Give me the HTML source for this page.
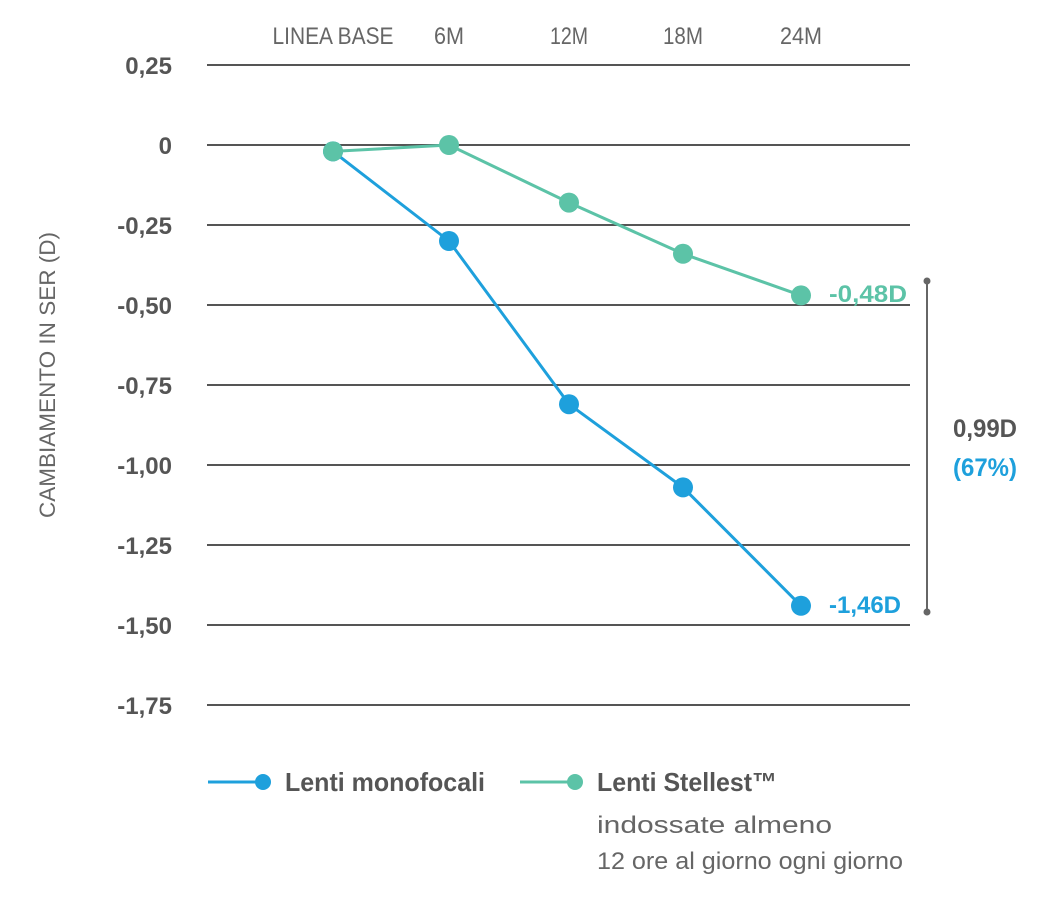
<!DOCTYPE html>
<html><head><meta charset="utf-8"><style>
html,body{margin:0;padding:0;background:#fff;}
svg{display:block;font-family:"Liberation Sans Narrow","Liberation Sans",sans-serif;}
</style></head><body>
<svg id="chart" width="1053" height="912" viewBox="0 0 1053 912" xmlns="http://www.w3.org/2000/svg">
<g id="grid"></g>
<g id="yt"></g>
<g id="xt"></g>
<text x="55" y="375" transform="rotate(-90 55 375)" text-anchor="middle" font-size="22" fill="#666" textLength="286" lengthAdjust="spacingAndGlyphs">CAMBIAMENTO IN SER (D)</text>
<g id="series"></g>
<text x="829" y="302" font-size="24" font-weight="bold" fill="#5cc3a7" textLength="78" lengthAdjust="spacingAndGlyphs">-0,48D</text>
<text x="829" y="613" font-size="24" font-weight="bold" fill="#1ea0dc" textLength="72" lengthAdjust="spacingAndGlyphs">-1,46D</text>
<g>
<line x1="927" y1="281" x2="927" y2="612" stroke="#666" stroke-width="2"/>
<circle cx="927" cy="281" r="3.5" fill="#666"/><circle cx="927" cy="612" r="3.5" fill="#666"/>
</g>
<text x="985" y="437" text-anchor="middle" font-size="25" font-weight="bold" fill="#555" textLength="64" lengthAdjust="spacingAndGlyphs">0,99D</text>
<text x="985" y="476" text-anchor="middle" font-size="25" font-weight="bold" fill="#1ea0dc" textLength="64" lengthAdjust="spacingAndGlyphs">(67%)</text>
<g>
<line x1="208" y1="782" x2="262" y2="782" stroke="#1ea0dc" stroke-width="3"/><circle cx="263" cy="782" r="8" fill="#1ea0dc"/>
<text x="285" y="791" font-size="26" font-weight="bold" fill="#555" textLength="200" lengthAdjust="spacingAndGlyphs">Lenti monofocali</text>
</g>
<g>
<line x1="520" y1="782" x2="574" y2="782" stroke="#5cc3a7" stroke-width="3"/><circle cx="575" cy="782" r="8" fill="#5cc3a7"/>
<text x="597" y="791" font-size="26" font-weight="bold" fill="#555" textLength="180" lengthAdjust="spacingAndGlyphs">Lenti Stellest™</text>
<text x="597" y="833" font-size="24" fill="#666" textLength="235" lengthAdjust="spacingAndGlyphs">indossate almeno</text>
<text x="597" y="869" font-size="24" fill="#666" textLength="306" lengthAdjust="spacingAndGlyphs">12 ore al giorno ogni giorno</text>
</g>
</svg>
<script>
const categories=["LINEA BASE","6M","12M","18M","24M"];
const monofocal=[-0.02,-0.30,-0.81,-1.07,-1.44];
const stellest=[-0.02,0,-0.18,-0.34,-0.47];
const yTicks=[0.25,0,-0.25,-0.5,-0.75,-1.0,-1.25,-1.5,-1.75];
const yTickLabels=["0,25","0","-0,25","-0,50","-0,75","-1,00","-1,25","-1,50","-1,75"];
const NS="http://www.w3.org/2000/svg";
const xPos=[333,449,569,683,801];
const xLabelW=[121,30,38,40,42];
function x(i){return xPos[i];}
function y(v){return 145-v*320;}
function mk(t,a,p){const e=document.createElementNS(NS,t);for(const k in a)e.setAttribute(k,a[k]);p.appendChild(e);return e;}
const grid=document.getElementById('grid'),yt=document.getElementById('yt'),xt=document.getElementById('xt'),ser=document.getElementById('series');
yTicks.forEach((v,i)=>{
 const l=mk('line',{x1:207,x2:910,y1:y(v),y2:y(v),stroke:'#555','stroke-width':2},grid);
 
 
 const t=mk('text',{x:172,y:y(v)+9,'text-anchor':'end','font-size':24,'font-weight':'bold',fill:'#555'},yt);
 t.textContent=yTickLabels[i];
 
 
});
categories.forEach((c,i)=>{
 const t=mk('text',{x:x(i),y:44,'text-anchor':'middle','font-size':24,fill:'#666',textLength:xLabelW[i],lengthAdjust:'spacingAndGlyphs'},xt);
 t.textContent=c;
 
 
});
function draw(vals,col,name){
 const pl=mk('polyline',{points:vals.map((v,i)=>x(i)+','+y(v)).join(' '),fill:'none',stroke:col,'stroke-width':3},ser);
 
 
 vals.forEach((v,i)=>{
  const c=mk('circle',{cx:x(i),cy:y(v),r:10,fill:col},ser);
  
  
 });
}
draw(monofocal,'#1ea0dc','monofocal');
draw(stellest,'#5cc3a7','stellest');
</script>
</body></html>
